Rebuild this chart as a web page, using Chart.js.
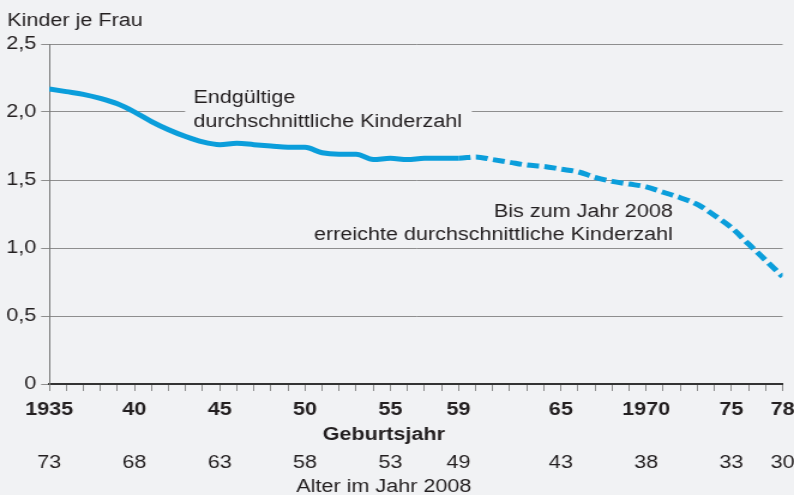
<!DOCTYPE html>
<html lang="de">
<head>
<meta charset="utf-8">
<title>Kinder je Frau nach Geburtsjahr</title>
<script src="https://cdn.jsdelivr.net/npm/chart.js@4/dist/chart.umd.min.js"></script>
<style>
  html, body { margin: 0; padding: 0; background: #f1f2f4; overflow: hidden; }
</style>
</head>
<body>
<!-- the canvas is drawn narrower and widened by CSS for the wide Helvetica look -->
<canvas id="c" width="662" height="495" style="display:block;width:794px;height:495px"></canvas>
<script>
// Geburtsjahrgänge
const birthYears = [
  1935, 1936, 1937, 1938, 1939, 1940, 1941, 1942, 1943, 1944,
  1945, 1946, 1947, 1948, 1949, 1950, 1951, 1952, 1953, 1954,
  1955, 1956, 1957, 1958, 1959, 1960, 1961, 1962, 1963, 1964,
  1965, 1966, 1967, 1968, 1969, 1970, 1971, 1972, 1973, 1974,
  1975, 1976, 1977, 1978
];
// durchschnittliche Kinderzahl je Frau (bis 1959 endgültig, danach bis 2008 erreicht)
const childrenPerWoman = [
  2.17, 2.15, 2.13, 2.10, 2.06, 2.00, 1.93, 1.87, 1.82, 1.78,
  1.76, 1.77, 1.76, 1.75, 1.74, 1.74, 1.70, 1.69, 1.69, 1.65,
  1.66, 1.65, 1.66, 1.66, 1.66, 1.67, 1.65, 1.63, 1.61, 1.60,
  1.58, 1.56, 1.52, 1.49, 1.47, 1.45, 1.41, 1.37, 1.32, 1.24,
  1.15, 1.03, 0.91, 0.79
];
const lastFinalYear = 1959;

// beschriftete Jahrgänge und das Alter der Frauen im Jahr 2008
const labeledYears  = [1935, 1940, 1945, 1950, 1955, 1959, 1965, 1970, 1975, 1978];
const yearTickText  = ['1935', '40', '45', '50', '55', '59', '65', '1970', '75', '78'];
const ageTickText   = ['73', '68', '63', '58', '53', '49', '43', '38', '33', '30'];

const FONT = "'Liberation Sans', Arial, Helvetica, sans-serif";
const BG = '#f1f2f4';
const INK = '#231f20';
const GRID = '#8e8e8e';
const BLUE = '#0b9edb';

Chart.defaults.font.family = FONT;
Chart.defaults.font.size = 18;
Chart.defaults.color = INK;

const background = {
  id: 'background',
  beforeDraw(chart) {
    const { ctx, width, height } = chart;
    ctx.save();
    ctx.fillStyle = BG;
    ctx.fillRect(0, 0, width, height);
    ctx.restore();
  }
};

const notes = {
  id: 'notes',
  beforeDatasetsDraw(chart) {
    const { ctx, scales: { x, y } } = chart;
    ctx.save();
    ctx.font = '18px ' + FONT;
    ctx.textBaseline = 'alphabetic';

    // label of the solid part, on a background patch that hides the grid line
    const l1 = x.getPixelForValue(1943.45);
    const b1 = y.getPixelForValue(2.064);
    const b2 = y.getPixelForValue(1.892);
    const p0 = x.getPixelForValue(1942.97);
    const p1 = x.getPixelForValue(1959.78);
    ctx.fillStyle = BG;
    ctx.fillRect(p0, b1 - 16, p1 - p0, (b2 + 5) - (b1 - 16));
    ctx.fillStyle = INK;
    ctx.textAlign = 'left';
    ctx.fillText('Endgültige', l1, b1);
    ctx.fillText('durchschnittliche Kinderzahl', l1, b2);

    // label of the dashed part
    const r2 = x.getPixelForValue(1971.56);
    ctx.textAlign = 'right';
    ctx.fillText('Bis zum Jahr 2008', r2, y.getPixelForValue(1.230));
    ctx.fillText('erreichte durchschnittliche Kinderzahl', r2, y.getPixelForValue(1.059));
    ctx.restore();
  },
  afterDraw(chart) {
    const { ctx } = chart;
    ctx.save();
    ctx.fillStyle = INK;
    ctx.textBaseline = 'alphabetic';
    ctx.textAlign = 'left';
    ctx.font = '18px ' + FONT;
    ctx.fillText('Kinder je Frau', 6, 25.5);
    ctx.textAlign = 'center';
    ctx.font = 'bold 18px ' + FONT;
    ctx.fillText('Geburtsjahr', 320, 440);
    ctx.font = '18px ' + FONT;
    ctx.fillText('Alter im Jahr 2008', 320, 492);
    ctx.restore();
  }
};

function labelFor(texts) {
  return (value) => {
    const i = labeledYears.indexOf(value);
    return i >= 0 ? texts[i] : '';
  };
}

function fixHeight(h) {
  return (s) => { s.height = h; s.paddingLeft = 0; s.paddingRight = 0; };
}

new Chart(document.getElementById('c'), {
  type: 'line',
  data: {
    datasets: [{
      data: birthYears.map((yr, i) => ({ x: yr, y: childrenPerWoman[i] })),
      borderColor: BLUE,
      borderWidth: 5,
      pointRadius: 0,
      cubicInterpolationMode: 'monotone',
      borderCapStyle: 'butt',
      segment: {
        borderDash: (c) => (c.p0.parsed.x >= lastFinalYear ? [10, 4.5] : undefined)
      }
    }]
  },
  options: {
    responsive: false,
    animation: false,
    events: [],
    layout: { padding: { top: 44, right: 9.5, left: 0, bottom: 0 } },
    plugins: { legend: { display: false }, tooltip: { enabled: false } },
    scales: {
      x: {
        type: 'linear',
        position: 'bottom',
        min: 1935,
        max: 1978,
        afterFit: fixHeight(40),
        border: { display: true, color: '#333333', width: 2 },
        grid: { drawOnChartArea: false, drawTicks: true, tickLength: 7, color: GRID, tickColor: GRID, lineWidth: 1 },
        ticks: {
          stepSize: 1,
          autoSkip: false,
          maxRotation: 0,
          padding: 8,
          color: INK,
          font: { size: 18, weight: 'bold' },
          callback: labelFor(yearTickText)
        }
      },
      age: {
        type: 'linear',
        position: 'bottom',
        min: 1935,
        max: 1978,
        afterFit: fixHeight(71),
        border: { display: false },
        grid: { display: false, drawTicks: false },
        ticks: {
          stepSize: 1,
          autoSkip: false,
          maxRotation: 0,
          padding: 28.5,
          color: INK,
          font: { size: 18 },
          callback: labelFor(ageTickText)
        }
      },
      y: {
        min: 0,
        max: 2.5,
        afterFit: (s) => { s.width = 41; },
        border: { display: true, color: '#7a7a7a', width: 1 },
        grid: {
          color: (c) => (c.tick && c.tick.value === 0 ? 'rgba(0,0,0,0)' : GRID),
          tickColor: GRID,
          tickLength: 6.7,
          lineWidth: 1
        },
        ticks: {
          stepSize: 0.5,
          padding: 4,
          color: INK,
          font: { size: 18 },
          callback: (v) => (v === 0 ? '0' : v.toFixed(1).replace('.', ','))
        }
      }
    }
  },
  plugins: [background, notes]
});
</script>
</body>
</html>
